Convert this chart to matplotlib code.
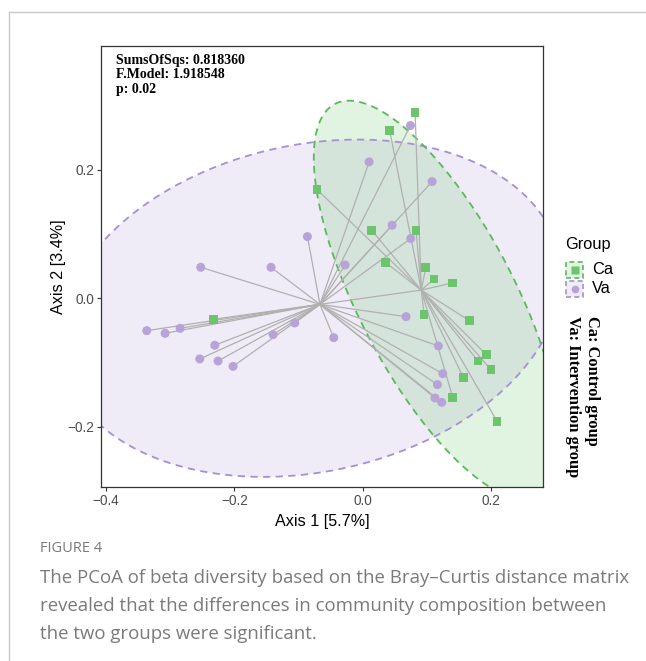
import numpy as np
import matplotlib
matplotlib.use("Agg")
import matplotlib.pyplot as plt
from matplotlib.lines import Line2D
from matplotlib.patches import Polygon, Rectangle

# PCoA coordinates (Axis 1, Axis 2)
ca_x = [0.0816, 0.0421, -0.0712, 0.0140, 0.0831, 0.0358, 0.0982, 0.1112, 0.1397,
        -0.2327, 0.0956, 0.1662, 0.1927, 0.1797, 0.2000, 0.1569, 0.1403, 0.2094]
ca_y = [0.2894, 0.2608, 0.1694, 0.1060, 0.1055, 0.0556, 0.0478, 0.0301, 0.0239,
        -0.0327, -0.0249, -0.0348, -0.0878, -0.0977, -0.1112, -0.1236, -0.1543, -0.1917]
va_x = [0.0743, 0.0099, 0.1081, 0.0457, 0.0748, -0.0862, -0.2525, -0.1429, -0.0275,
        0.0675, -0.1060, -0.0452, -0.3366, -0.3081, -0.2847, -0.2306, -0.1397, -0.2540,
        -0.2255, -0.2021, 0.1179, 0.1247, 0.1164, 0.1127, 0.1231]
va_y = [0.2691, 0.2125, 0.1818, 0.1138, 0.0930, 0.0961, 0.0483, 0.0483, 0.0519,
        -0.0286, -0.0384, -0.0613, -0.0504, -0.0545, -0.0468, -0.0732, -0.0566, -0.0945,
        -0.0977, -0.1060, -0.0743, -0.1174, -0.1345, -0.1553, -0.1621]

stats_text = "SumsOfSqs: 0.818360\nF.Model: 1.918548\np: 0.02"
x_ticks = [-0.4, -0.2, 0.0, 0.2]
y_ticks = [-0.2, 0.0, 0.2]

green = "#6cc46c"
green_edge = "#5cb85c"
purple = "#b7a3d8"
purple_edge = "#a68fd3"


def cov_trob(x, nu=5, maxit=25, tol=0.01):
    # same as MASS::cov.trob (used by ggplot2 stat_ellipse type "t")
    n, p = x.shape
    wt = np.ones(n)
    loc = x.mean(axis=0)
    w = np.sqrt(wt)
    for _ in range(maxit):
        w0 = w
        X = x - loc
        _, d, vt = np.linalg.svd(np.sqrt(w / w.sum())[:, None] * X, full_matrices=False)
        wX = X @ vt.T @ np.diag(1 / d)
        Q = (wX ** 2).sum(axis=1)
        w = wt * (nu + p) / (nu + Q)
        loc = (w[:, None] * x).sum(axis=0) / w.sum()
        if np.all(np.abs(w - w0) < tol):
            break
    cov = (np.sqrt(w)[:, None] * X).T @ (np.sqrt(w)[:, None] * X) / wt.sum()
    return cov, loc


def ellipse_pts(xs, ys, level=0.95, seg=200):
    data = np.column_stack([xs, ys])
    cov, center = cov_trob(data)
    d = len(xs) - 1
    qf = d / 2 * ((1 - level) ** (-2 / d) - 1)  # F(2, d) quantile
    radius = np.sqrt(2 * qf)
    chol = np.linalg.cholesky(cov).T
    a = np.linspace(0, 2 * np.pi, seg + 1)
    circ = np.column_stack([np.cos(a), np.sin(a)])
    return center + radius * circ @ chol


fig = plt.figure(figsize=(6.46, 6.61), dpi=100)
ax = fig.add_axes([0.1563, 0.2632, 0.6843, 0.6672])

for xs, ys, col, ec in [(va_x, va_y, purple, purple_edge), (ca_x, ca_y, green, green_edge)]:
    pts = ellipse_pts(xs, ys)
    ax.add_patch(Polygon(pts, closed=True, facecolor=col, alpha=0.2, edgecolor="none", zorder=1))
    ax.plot(pts[:, 0], pts[:, 1], color=ec, lw=1.3, ls=(0, (4, 3)), zorder=2)

# spider lines to group centroids
for xs, ys in [(ca_x, ca_y), (va_x, va_y)]:
    cx, cy = np.mean(xs), np.mean(ys)
    for px, py in zip(xs, ys):
        ax.plot([cx, px], [cy, py], color="#b0b0b0", lw=0.9, zorder=3)

ax.scatter(ca_x, ca_y, marker="s", s=40, color=green, edgecolors="none", zorder=4)
ax.scatter(va_x, va_y, marker="o", s=42, color=purple, edgecolors="none", zorder=4)

ax.set_xlim(-0.408, 0.281)
ax.set_ylim(-0.294, 0.393)
ax.set_xticks(x_ticks)
ax.set_yticks(y_ticks)
ax.set_xticklabels(["\u22120.4", "\u22120.2", "0.0", "0.2"])
ax.set_yticklabels(["\u22120.2", "0.0", "0.2"])
ax.tick_params(length=3, width=0.8, color="#333333", labelsize=9.8, labelcolor="#4d4d4d",
               pad=2)
for lab in ax.get_xticklabels() + ax.get_yticklabels():
    lab.set_family("Liberation Sans")
for sp in ax.spines.values():
    sp.set_color("#333333")
    sp.set_linewidth(0.9)
ax.set_xlabel("Axis 1 [5.7%]", family="Liberation Sans", fontsize=11.6, labelpad=4)
ax.set_ylabel("Axis 2 [3.4%]", family="Liberation Sans", fontsize=11.6, labelpad=1)

ax.text(0.034, 0.982, stats_text, transform=ax.transAxes, va="top", ha="left",
        family="Liberation Serif", fontweight="bold", fontsize=10, linespacing=1.15)

# legend
fig.text(565 / 646, 1 - 244 / 661, "Group", family="Liberation Sans", fontsize=11.8,
         va="center", ha="left")
for i, (lab, col, ec, mk) in enumerate([("Ca", green, green_edge, "s"), ("Va", purple, purple_edge, "o")]):
    yc = 1 - (269.5 + 19 * i) / 661
    xk = 566 / 646
    fig.add_artist(Rectangle((xk, yc - 8 / 661), 17 / 646, 16 / 661, transform=fig.transFigure,
                             facecolor=col, alpha=0.2, edgecolor="none"))
    fig.add_artist(Rectangle((xk, yc - 8 / 661), 17 / 646, 16 / 661, transform=fig.transFigure,
                             facecolor="none", edgecolor=ec, lw=1.2, ls=(0, (3, 2))))
    fig.add_artist(Line2D([xk + 8.5 / 646], [yc], marker=mk, markersize=5.5, color=col,
                          markeredgecolor="none", transform=fig.transFigure))
    fig.text(592 / 646, yc, lab, family="Liberation Sans", fontsize=11.8, va="center", ha="left")

fig.text(592 / 646, 1 - 316 / 661, "Ca: Control group", rotation=-90, family="Liberation Serif",
         fontweight="bold", fontsize=11.8, va="top", ha="center")
fig.text(573 / 646, 1 - 316 / 661, "Va: Intervention group", rotation=-90, family="Liberation Serif",
         fontweight="bold", fontsize=11.8, va="top", ha="center")

# page frame and caption
fig.add_artist(Line2D([9 / 646, 1], [1 - 12 / 661, 1 - 12 / 661], color="#c8c8c8", lw=1,
                      transform=fig.transFigure))
fig.add_artist(Line2D([9 / 646, 9 / 646], [0, 1 - 12 / 661], color="#c8c8c8", lw=1,
                      transform=fig.transFigure))
fig.text(40 / 646, 1 - 548 / 661, "FIGURE 4", family="Open Sans", fontsize=10.5,
         color="#7a7a7a", va="center", ha="left")
caption = ("The PCoA of beta diversity based on the Bray\u2013Curtis distance matrix\n"
           "revealed that the differences in community composition between\n"
           "the two groups were significant.")
fig.text(40 / 646, 1 - 569 / 661, caption, family="Open Sans", fontsize=13.4,
         color="#7a7a7a", va="top", ha="left", linespacing=1.7)

fig.savefig("out.png", dpi=100)
